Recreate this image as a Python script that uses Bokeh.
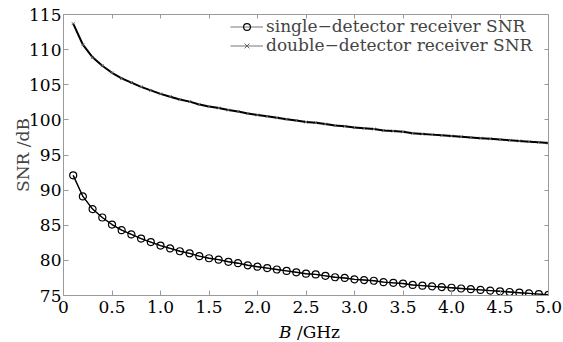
from bokeh.plotting import figure
from bokeh.models import (Range1d, FixedTicker, LinearAxis, Legend, LegendItem,
                          PrintfTickFormatter, Div)
from bokeh.layouts import column
from bokeh.embed import file_html
from bokeh.resources import INLINE

# ---- data ----
bandwidth_ghz = [0.1, 0.2, 0.3, 0.4, 0.5, 0.6, 0.7, 0.8, 0.9, 1.0,
                 1.1, 1.2, 1.3, 1.4, 1.5, 1.6, 1.7, 1.8, 1.9, 2.0,
                 2.1, 2.2, 2.3, 2.4, 2.5, 2.6, 2.7, 2.8, 2.9, 3.0,
                 3.1, 3.2, 3.3, 3.4, 3.5, 3.6, 3.7, 3.8, 3.9, 4.0,
                 4.1, 4.2, 4.3, 4.4, 4.5, 4.6, 4.7, 4.8, 4.9, 5.0]
single_snr = [92.1, 89.1, 87.3, 86.1, 85.1, 84.3, 83.7, 83.1, 82.6, 82.1,
              81.7, 81.3, 81.0, 80.6, 80.3, 80.1, 79.8, 79.6, 79.3, 79.1,
              78.9, 78.7, 78.5, 78.3, 78.1, 78.0, 77.8, 77.6, 77.5, 77.3,
              77.2, 77.1, 76.9, 76.8, 76.7, 76.5, 76.4, 76.3, 76.2, 76.1,
              76.0, 75.9, 75.8, 75.7, 75.6, 75.5, 75.4, 75.3, 75.2, 75.1]
double_snr = [113.7, 110.7, 108.9, 107.7, 106.7, 105.9, 105.3, 104.7, 104.2, 103.7,
              103.3, 102.9, 102.6, 102.2, 101.9, 101.7, 101.4, 101.2, 100.9, 100.7,
              100.5, 100.3, 100.1, 99.9, 99.7, 99.6, 99.4, 99.2, 99.1, 98.9,
              98.8, 98.7, 98.5, 98.4, 98.3, 98.1, 98.0, 97.9, 97.8, 97.7,
              97.6, 97.5, 97.4, 97.3, 97.2, 97.1, 97.0, 96.9, 96.8, 96.7]
x_ticks = [0, 0.5, 1.0, 1.5, 2.0, 2.5, 3.0, 3.5, 4.0, 4.5, 5.0]
y_ticks = [75, 80, 85, 90, 95, 100, 105, 110, 115]
series_labels = ["single\u2212detector receiver SNR", "double\u2212detector receiver SNR"]

FONT = "DejaVu Serif"
FS = "17px"
GREY = "#9a9a9a"

p = figure(width=563, height=322, output_backend="svg", toolbar_location=None,
           x_range=Range1d(0, 5), y_range=Range1d(75, 115),
           min_border_left=63, min_border_right=15, min_border_top=14,
           min_border_bottom=27)
p.grid.visible = False
p.outline_line_color = GREY
p.outline_line_width = 1
p.background_fill_color = "white"
p.border_fill_color = "white"

# main axes
xa = p.xaxis[0]
ya = p.yaxis[0]
xa.ticker = FixedTicker(ticks=x_ticks)
ya.ticker = FixedTicker(ticks=y_ticks)
xa.formatter = PrintfTickFormatter(format="%.1f")
xa.major_label_overrides = {0: "0"}
for ax in (xa, ya):
    ax.axis_line_color = GREY
    ax.major_tick_line_color = GREY
    ax.major_tick_in = 5
    ax.major_tick_out = 0
    ax.minor_tick_line_color = None
    ax.major_label_text_font = FONT
    ax.major_label_text_font_size = FS
    ax.major_label_text_color = "black"
    ax.axis_label_text_font = FONT
    ax.axis_label_text_font_size = FS
    ax.axis_label_text_font_style = "normal"
xa.major_label_standoff = 5
ya.major_label_standoff = 2
ya.axis_label = "SNR /dB"
ya.axis_label_standoff = -7

# mirrored axes (ticks only, no labels)
top = LinearAxis(ticker=FixedTicker(ticks=x_ticks))
right = LinearAxis(ticker=FixedTicker(ticks=y_ticks))
for ax in (top, right):
    ax.axis_line_color = GREY
    ax.major_tick_line_color = GREY
    ax.major_tick_in = 4
    ax.major_tick_out = 0
    ax.minor_tick_line_color = None
    ax.major_label_text_color = None
    ax.major_label_text_font_size = "1px"
    ax.major_label_standoff = 0
p.add_layout(top, "above")
p.add_layout(right, "right")

# thin grey lines under the curves (used as legend glyphs)
g1 = p.line(bandwidth_ghz, single_snr, line_color="#777777", line_width=1)
g2 = p.line(bandwidth_ghz, double_snr, line_color="#777777", line_width=1)

# series
l1 = p.line(bandwidth_ghz, single_snr, line_color="black", line_width=1.4)
s1 = p.scatter(bandwidth_ghz, single_snr, marker="circle", size=7,
               fill_color=None, line_color="black", line_width=1.2)
l2 = p.line(bandwidth_ghz, double_snr, line_color="black", line_width=2)
s2 = p.scatter(bandwidth_ghz, double_snr, marker="x", size=4,
               line_color="#666666", line_width=1)


def make_legend(item, loc):
    lg = Legend(items=[item], location=loc)
    lg.border_line_color = None
    lg.background_fill_alpha = 0
    lg.padding = 0
    lg.margin = 0
    lg.spacing = 0
    lg.glyph_width = 33
    lg.glyph_height = 17
    lg.label_height = 17
    lg.label_standoff = 3
    lg.label_text_font = FONT
    lg.label_text_font_size = FS
    lg.label_text_baseline = "middle"
    return lg


p.add_layout(make_legend(LegendItem(label=series_labels[0], renderers=[g1, s1]),
                         (167, 259)), "center")
p.add_layout(make_legend(LegendItem(label=series_labels[1], renderers=[g2, s2]),
                         (167, 240)), "center")

# x-axis title with italic B (HTML text below the figure)
xlabel = Div(text="<i>B</i> /GHz", width=563, height=20,
             styles={"font-family": FONT, "font-size": FS, "line-height": "20px",
                     "text-indent": "279px", "color": "black", "margin": "0",
                     "overflow": "visible", "white-space": "nowrap"})

layout = column(p, xlabel, spacing=0)
open("out.html", "w").write(file_html(layout, INLINE))
